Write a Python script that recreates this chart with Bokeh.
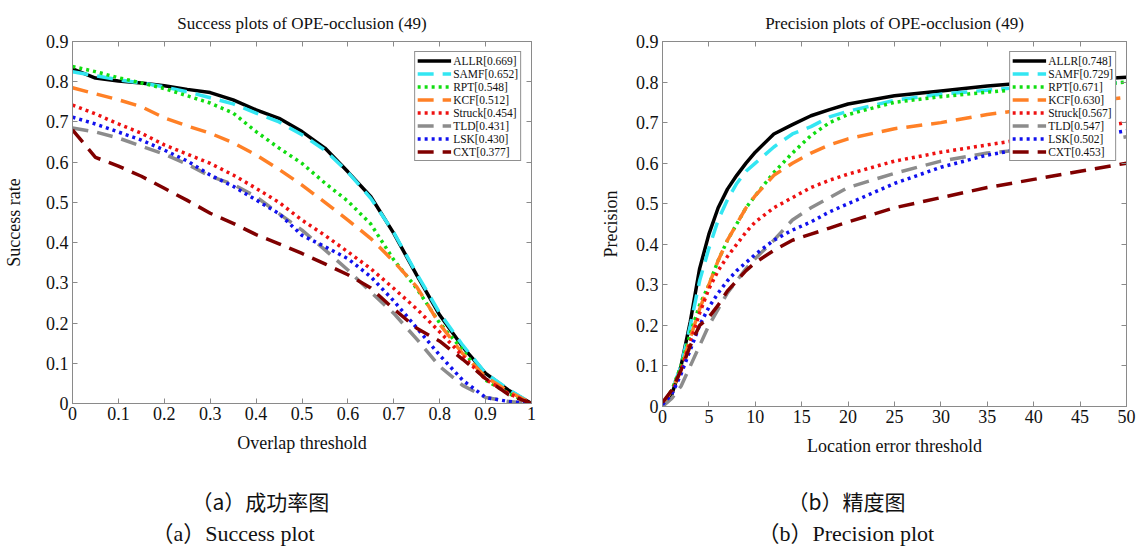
from bokeh.plotting import figure
from bokeh.models import (FixedTicker, CustomJSTickFormatter, LinearAxis, Legend,
                          LegendItem, Label, Range1d)
from bokeh.layouts import row, column
from bokeh.embed import file_html
from bokeh.resources import INLINE

# ---------------- data ----------------
methods = ["ALLR", "SAMF", "RPT", "KCF", "Struck", "TLD", "LSK", "CXT"]
success_auc = ["0.669", "0.652", "0.548", "0.512", "0.454", "0.431", "0.430", "0.377"]
precision_score = ["0.748", "0.729", "0.671", "0.630", "0.567", "0.547", "0.502", "0.453"]

overlap_x = [0.0, 0.05, 0.1, 0.15, 0.2, 0.25, 0.3, 0.35, 0.4, 0.45, 0.5,
             0.55, 0.6, 0.65, 0.7, 0.75, 0.8, 0.85, 0.9, 0.95, 1.0]
succ_ALLR = [0.832, 0.809, 0.802, 0.797, 0.790, 0.781, 0.773, 0.755, 0.730, 0.709, 0.676,
             0.635, 0.576, 0.514, 0.423, 0.319, 0.220, 0.141, 0.075, 0.033, 0.0]
succ_SAMF = [0.825, 0.815, 0.805, 0.797, 0.787, 0.775, 0.760, 0.745, 0.722, 0.700, 0.668,
             0.630, 0.575, 0.510, 0.425, 0.322, 0.225, 0.145, 0.075, 0.035, 0.0]
succ_RPT = [0.838, 0.825, 0.810, 0.797, 0.783, 0.765, 0.747, 0.722, 0.676, 0.635, 0.597,
            0.548, 0.503, 0.446, 0.357, 0.286, 0.200, 0.133, 0.058, 0.025, 0.0]
succ_KCF = [0.785, 0.770, 0.755, 0.738, 0.710, 0.690, 0.672, 0.648, 0.618, 0.582, 0.543,
            0.500, 0.456, 0.410, 0.353, 0.290, 0.197, 0.124, 0.066, 0.030, 0.0]
succ_Struck = [0.742, 0.720, 0.695, 0.672, 0.643, 0.620, 0.597, 0.568, 0.535, 0.500, 0.456,
               0.418, 0.377, 0.335, 0.286, 0.235, 0.178, 0.118, 0.060, 0.025, 0.0]
succ_TLD = [0.685, 0.675, 0.660, 0.640, 0.620, 0.595, 0.565, 0.545, 0.514, 0.472, 0.431,
            0.382, 0.332, 0.277, 0.224, 0.160, 0.092, 0.045, 0.015, 0.005, 0.0]
succ_LSK = [0.712, 0.695, 0.675, 0.655, 0.630, 0.603, 0.568, 0.540, 0.506, 0.472, 0.418,
            0.390, 0.360, 0.315, 0.255, 0.188, 0.120, 0.058, 0.015, 0.005, 0.0]
succ_CXT = [0.680, 0.612, 0.590, 0.565, 0.535, 0.505, 0.473, 0.448, 0.420, 0.397, 0.373,
            0.347, 0.320, 0.287, 0.235, 0.187, 0.155, 0.110, 0.062, 0.022, 0.0]

error_x = [0, 1, 2, 3, 4, 5, 6, 7, 8, 9, 10, 12, 14, 16, 18, 20, 25, 30, 35, 40, 45, 50]
prec_ALLR = [0.005, 0.03, 0.10, 0.21, 0.34, 0.425, 0.49, 0.536, 0.57, 0.60, 0.627,
             0.672, 0.695, 0.717, 0.732, 0.746, 0.766, 0.778, 0.790, 0.800, 0.805, 0.812]
prec_SAMF = [0.005, 0.04, 0.10, 0.20, 0.31, 0.39, 0.46, 0.51, 0.55, 0.58, 0.60,
             0.64, 0.672, 0.69, 0.714, 0.728, 0.755, 0.770, 0.780, 0.790, 0.793, 0.800]
prec_RPT = [0.005, 0.04, 0.10, 0.18, 0.25, 0.30, 0.36, 0.41, 0.45, 0.49, 0.52,
            0.577, 0.625, 0.668, 0.700, 0.720, 0.750, 0.764, 0.775, 0.785, 0.790, 0.800]
prec_KCF = [0.005, 0.04, 0.09, 0.17, 0.24, 0.30, 0.36, 0.41, 0.45, 0.49, 0.52,
            0.57, 0.60, 0.625, 0.645, 0.66, 0.685, 0.70, 0.72, 0.735, 0.75, 0.762]
prec_Struck = [0.005, 0.035, 0.09, 0.16, 0.23, 0.29, 0.335, 0.37, 0.40, 0.43, 0.455,
               0.49, 0.515, 0.54, 0.558, 0.573, 0.605, 0.627, 0.645, 0.663, 0.683, 0.70]
prec_TLD = [0.0, 0.02, 0.05, 0.10, 0.15, 0.20, 0.24, 0.28, 0.31, 0.34, 0.365,
            0.41, 0.46, 0.49, 0.515, 0.54, 0.575, 0.605, 0.625, 0.635, 0.645, 0.665]
prec_LSK = [0.005, 0.03, 0.08, 0.14, 0.20, 0.245, 0.28, 0.31, 0.335, 0.355, 0.375,
            0.41, 0.435, 0.455, 0.48, 0.50, 0.55, 0.59, 0.62, 0.64, 0.66, 0.68]
prec_CXT = [0.01, 0.04, 0.09, 0.15, 0.20, 0.22, 0.25, 0.285, 0.31, 0.335, 0.355,
            0.385, 0.41, 0.425, 0.44, 0.455, 0.49, 0.515, 0.54, 0.56, 0.58, 0.60]

overlap_ticks = [0, 0.1, 0.2, 0.3, 0.4, 0.5, 0.6, 0.7, 0.8, 0.9, 1]
error_ticks = [0, 5, 10, 15, 20, 25, 30, 35, 40, 45, 50]
rate_ticks = [0, 0.1, 0.2, 0.3, 0.4, 0.5, 0.6, 0.7, 0.8, 0.9]

captions_a = ["（a）成功率图", "（a）Success plot"]
captions_b = ["（b）精度图", "（b）Precision plot"]

success_series = [succ_ALLR, succ_SAMF, succ_RPT, succ_KCF, succ_Struck, succ_TLD, succ_LSK, succ_CXT]
precision_series = [prec_ALLR, prec_SAMF, prec_RPT, prec_KCF, prec_Struck, prec_TLD, prec_LSK, prec_CXT]

# ---------------- styles ----------------
styles = {
    "ALLR": dict(color="#000000", dash="solid"),
    "SAMF": dict(color="#33e6f2", dash="16 9"),
    "RPT": dict(color="#11dd11", dash="3 4"),
    "KCF": dict(color="#ff8026", dash="16 9"),
    "Struck": dict(color="#ee1111", dash="3 4"),
    "TLD": dict(color="#8c8c8c", dash="16 9"),
    "LSK": dict(color="#1111ee", dash="3 4"),
    "CXT": dict(color="#800000", dash="16 9"),
}

SERIF = "Liberation Serif"
CJK = "Noto Sans CJK SC"
FRAME = "#8a8a8a"
fmt = CustomJSTickFormatter(code="return Number(tick.toFixed(2)).toString();")
blank = CustomJSTickFormatter(code="return '';")


def make_fig(title, xlabel, ylabel, xs, series, scores, x_end, xticks,
             fw, fh, mbl, mbr, mbt, mbb, ylab_standoff):
    p = figure(frame_width=fw, frame_height=fh, output_backend="svg", toolbar_location=None,
               x_range=Range1d(0, x_end), y_range=Range1d(0, 0.9),
               min_border_left=mbl, min_border_right=mbr,
               min_border_top=mbt, min_border_bottom=mbb,
               x_axis_location=None, y_axis_location=None)
    p.title.text = title
    p.title.align = "center"
    p.title.text_font = SERIF
    p.title.text_font_size = "17px"
    p.title.text_font_style = "normal"
    p.title.text_color = "#111111"
    p.title.standoff = 17
    p.grid.visible = False
    p.outline_line_color = FRAME
    p.background_fill_color = "white"
    p.border_fill_color = "white"

    def style_axis(ax, labels):
        ax.axis_line_color = FRAME
        ax.major_tick_line_color = FRAME
        ax.major_tick_in = 5
        ax.major_tick_out = 0
        ax.minor_tick_line_color = None
        if labels:
            ax.formatter = fmt
            ax.major_label_text_font = SERIF
            ax.major_label_text_font_size = "18px"
            ax.major_label_text_color = "#111111"
            ax.axis_label_text_font = SERIF
            ax.axis_label_text_font_size = "18px"
            ax.axis_label_text_font_style = "normal"
            ax.axis_label_text_color = "#111111"
        else:
            ax.formatter = blank
            ax.major_label_text_font_size = "0px"
            ax.major_label_standoff = 0

    xb = LinearAxis(ticker=FixedTicker(ticks=xticks), axis_label=xlabel)
    style_axis(xb, True)
    xb.major_label_standoff = 3
    xb.axis_label_standoff = 10
    yl = LinearAxis(ticker=FixedTicker(ticks=rate_ticks), axis_label=ylabel)
    style_axis(yl, True)
    yl.major_label_standoff = 4
    yl.axis_label_standoff = ylab_standoff
    xt = LinearAxis(ticker=FixedTicker(ticks=xticks))
    style_axis(xt, False)
    yr = LinearAxis(ticker=FixedTicker(ticks=rate_ticks))
    style_axis(yr, False)
    p.add_layout(xb, "below")
    p.add_layout(yl, "left")
    p.add_layout(xt, "above")
    p.add_layout(yr, "right")

    items = []
    for m, ys, sc in zip(methods, series, scores):
        st = styles[m]
        r = p.line(xs, ys, line_color=st["color"], line_width=3.5,
                   line_dash=st["dash"])
        items.append(LegendItem(label=f"{m}[{sc}]", renderers=[r]))
    leg = Legend(items=items, location="top_right", margin=10, padding=2, spacing=0,
                 label_height=13, glyph_height=13, glyph_width=34, label_standoff=2,
                 label_text_font=SERIF, label_text_font_size="11.5px",
                 label_text_line_height=1.0,
                 label_text_color="#111111",
                 border_line_color="#222222", border_line_width=1,
                 background_fill_color="white", background_fill_alpha=1)
    p.add_layout(leg)
    return p


def make_caption(width, height, texts, xs_left):
    c = figure(width=width, height=height, output_backend="svg", toolbar_location=None,
               x_range=Range1d(0, width), y_range=Range1d(0, height),
               min_border=0, x_axis_location=None, y_axis_location=None)
    c.grid.visible = False
    c.outline_line_color = None
    c.add_layout(Label(x=xs_left[0], y=height - 30, text=texts[0], text_font=CJK,
                       text_font_size="21px", text_baseline="middle", text_align="left",
                       text_color="#111111"))
    c.add_layout(Label(x=xs_left[1], y=height - 63, text=texts[1],
                       text_font="Liberation Serif, Noto Sans CJK SC",
                       text_font_size="22px", text_baseline="middle", text_align="left",
                       text_color="#111111"))
    return c


p1 = make_fig("Success plots of OPE-occlusion (49)", "Overlap threshold", "Success rate",
              overlap_x, success_series, success_auc, 1, overlap_ticks,
              fw=459, fh=362, mbl=72, mbr=64, mbt=39, mbb=69, ylab_standoff=19)
p2 = make_fig("Precision plots of OPE-occlusion (49)", "Location error threshold", "Precision",
              error_x, precision_series, precision_score, 50, error_ticks,
              fw=464, fh=365, mbl=67, mbr=11, mbt=41, mbb=64, ylab_standoff=12)

c1 = make_caption(595, 76, captions_a, [191, 151])
c2 = make_caption(542, 76, captions_b, [192, 162])

layout = column(row(p1, p2), row(c1, c2))
open("out.html", "w").write(file_html(layout, INLINE))
